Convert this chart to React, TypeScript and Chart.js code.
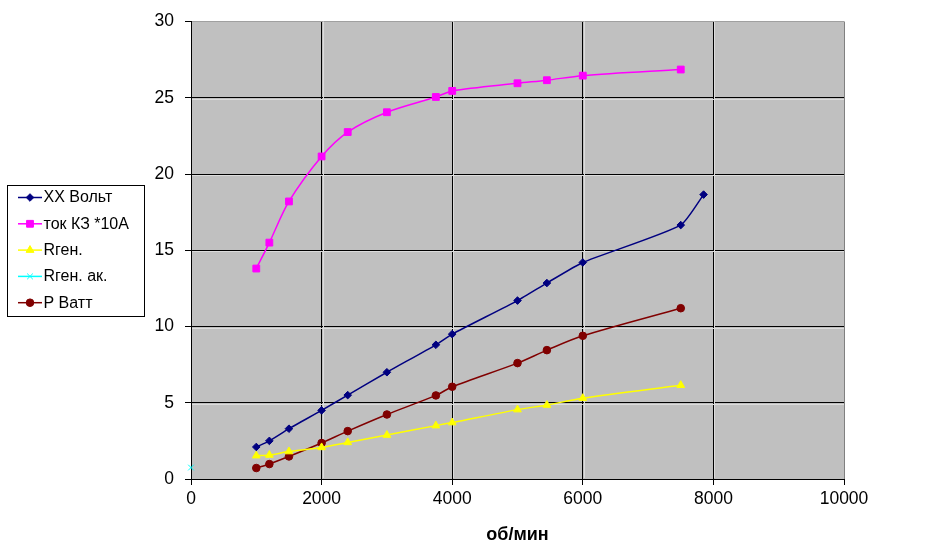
import React, { useEffect, useRef } from "react";
import { Chart, registerables } from "chart.js";
import { drawPoint } from "chart.js/helpers";

Chart.register(...registerables);

// ---- data ----
const rpm = [1000, 1200, 1500, 2000, 2400, 3000, 3750, 4000, 5000, 5450, 6000, 7500];
const rpmXX = [1000, 1200, 1500, 2000, 2400, 3000, 3750, 4000, 5000, 5450, 6000, 7500, 7850];
const xxVolt = [2.1, 2.5, 3.3, 4.5, 5.5, 7.0, 8.8, 9.5, 11.7, 12.85, 14.2, 16.65, 18.65];
const tokKZ = [13.8, 15.5, 18.2, 21.15, 22.75, 24.05, 25.05, 25.45, 25.95, 26.15, 26.45, 26.85];
const rGen = [1.53, 1.57, 1.8, 2.07, 2.4, 2.88, 3.5, 3.7, 4.55, 4.85, 5.3, 6.15];
const rpmAk = [0];
const rGenAk = [0.75];
const pWatt = [0.72, 0.98, 1.48, 2.36, 3.14, 4.23, 5.48, 6.05, 7.6, 8.45, 9.39, 11.2];

const seriesNames = ["XX Вольт", "ток КЗ *10А", "Rген.", "Rген. ак.", "P Ватт"];
const xTitle = "об/мин";

const pts = (xs: number[], ys: number[]) => xs.map((x, i) => ({ x, y: ys[i] }));

const FONT = "'Liberation Sans', Arial, sans-serif";

const plotBg = {
  id: "plotBg",
  beforeDraw(chart: any) {
    const { ctx, chartArea } = chart;
    ctx.save();
    ctx.fillStyle = "#C0C0C0";
    ctx.fillRect(chartArea.left, chartArea.top, chartArea.right - chartArea.left, chartArea.bottom - chartArea.top);
    ctx.restore();
  },
  beforeDatasetsDraw(chart: any) {
    // light "shadow" line next to each inner grid line, as in the original
    const { ctx, chartArea, scales } = chart;
    ctx.save();
    ctx.strokeStyle = "#dcdcdc";
    ctx.lineWidth = 1;
    ctx.beginPath();
    scales.y.ticks.forEach((t: any) => {
      if (t.value <= 0 || t.value >= 30) return;
      const y = Math.round(scales.y.getPixelForValue(t.value)) + 1.5;
      ctx.moveTo(chartArea.left + 1, y);
      ctx.lineTo(chartArea.right, y);
    });
    scales.x.ticks.forEach((t: any) => {
      if (t.value <= 0 || t.value >= 10000) return;
      const x = Math.round(scales.x.getPixelForValue(t.value)) + 1.5;
      ctx.moveTo(x, chartArea.top);
      ctx.lineTo(x, chartArea.bottom - 1);
    });
    ctx.stroke();
    ctx.restore();
  },
};

const boxLegend = {
  id: "boxLegend",
  afterDraw(chart: any) {
    const ctx = chart.ctx;
    const left = 7.5, top = 185.5, w = 137, h = 131;
    ctx.save();
    ctx.fillStyle = "#fff";
    ctx.fillRect(left, top, w, h);
    ctx.strokeStyle = "#000";
    ctx.lineWidth = 1;
    ctx.strokeRect(left, top, w, h);
    const rowY0 = 197.5, rowStep = 26.3;
    chart.data.datasets.forEach((ds: any, i: number) => {
      const y = rowY0 + i * rowStep;
      ctx.strokeStyle = ds.borderColor;
      ctx.fillStyle = ds.borderColor;
      ctx.lineWidth = 1.5;
      ctx.beginPath();
      ctx.moveTo(18, y);
      ctx.lineTo(42, y);
      ctx.stroke();
      ctx.lineWidth = 1;
      drawPoint(ctx, { pointStyle: ds.pointStyle, radius: ds.pointRadius, rotation: 0, borderWidth: 1 } as any, 30, y);
      ctx.fillStyle = "#000";
      ctx.font = `16px ${FONT}`;
      ctx.textBaseline = "middle";
      ctx.textAlign = "left";
      ctx.fillText(ds.label, 43.5, y + 0.5);
    });
    ctx.restore();
  },
};

export default function App() {
  const ref = useRef<HTMLCanvasElement>(null);
  useEffect(() => {
    if (!ref.current) return;
    const mk = (label: string, data: any[], color: string, style: string, r: number, tension: number) => ({
      label,
      data,
      borderColor: color,
      backgroundColor: color,
      pointBackgroundColor: color,
      pointBorderColor: color,
      pointStyle: style,
      pointRadius: r,
      pointBorderWidth: 1,
      borderWidth: 1.5,
      tension,
      showLine: true,
      fill: false,
      clip: false,
    });
    const chart = new Chart(ref.current, {
      type: "scatter",
      data: {
        datasets: [
          mk(seriesNames[0], pts(rpmXX, xxVolt), "#000080", "rectRot", 3.8, 0.18),
          mk(seriesNames[1], pts(rpm, tokKZ), "#FF00FF", "rect", 4.8, 0.3),
          mk(seriesNames[2], pts(rpm, rGen), "#FFFF00", "triangle", 4.5, 0.3),
          mk(seriesNames[3], pts(rpmAk, rGenAk), "#00FFFF", "crossRot", 4, 0.3),
          mk(seriesNames[4], pts(rpm, pWatt), "#800000", "circle", 3.8, 0.3),
        ] as any,
      },
      options: {
        animation: false,
        responsive: false,
        layout: { padding: { left: 0, right: 83, top: 21, bottom: 0 } },
        plugins: {
          legend: { display: false },
          tooltip: { enabled: false },
        },
        scales: {
          x: {
            type: "linear",
            min: 0,
            max: 10000,
            ticks: {
              stepSize: 2000,
              color: "#000",
              font: { family: FONT, size: 17.5 },
              padding: 4,
              callback: (v: any) => String(v),
            },
            grid: {
              color: (c: any) => (c.tick && c.tick.value === 10000 ? "#808080" : "#000"),
              tickColor: "#000",
              tickLength: 6,
              lineWidth: 1,
            },
            border: { display: true, color: "#000", width: 1 },
            title: {
              display: true,
              text: xTitle,
              color: "#000",
              font: { family: FONT, size: 18, weight: "bold" },
              padding: { top: 0, bottom: 10 },
            },
            afterFit: (s: any) => {
              s.height = 77;
            },
          },
          y: {
            type: "linear",
            min: 0,
            max: 30,
            ticks: {
              stepSize: 5,
              color: "#000",
              font: { family: FONT, size: 17.5 },
              padding: 11,
              callback: (v: any) => String(v),
            },
            grid: {
              color: (c: any) => (c.tick && c.tick.value === 30 ? "#a0a0a0" : "#000"),
              tickColor: "#000",
              tickLength: 6,
              lineWidth: 1,
            },
            border: { display: true, color: "#000", width: 1 },
            afterFit: (s: any) => {
              s.width = 191;
            },
          },
        },
      } as any,
      plugins: [plotBg, boxLegend],
    });
    return () => chart.destroy();
  }, []);
  return (
    <div style={{ position: "fixed", left: 0, top: 0, width: 927, height: 556, background: "#fff" }}>
      <canvas ref={ref} width={927} height={556} style={{ width: 927, height: 556 }} />
    </div>
  );
}
